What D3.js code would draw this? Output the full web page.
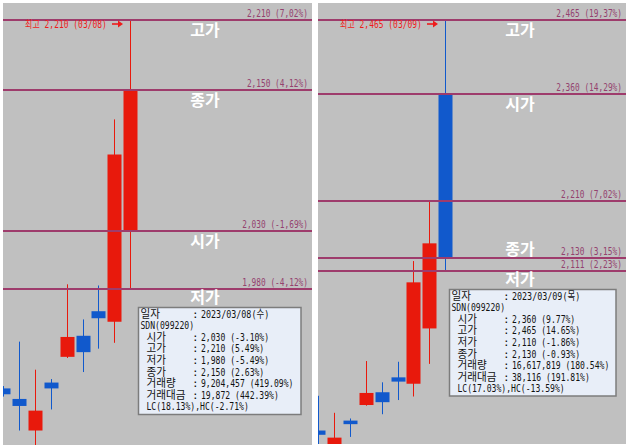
<!DOCTYPE html>
<html><head><meta charset="utf-8">
<script src="https://cdn.jsdelivr.net/npm/d3@7"></script>
<style>body{margin:0;background:#fff;}svg{display:block;}</style>
</head><body>
<script>
// ---- data ----
const dates  = ["02/23","02/24","02/27","02/28","03/02","03/03","03/06","03/07","03/08","03/09"];
const opens  = [1895, 1886, 1859, 1900, 1922, 1940, 1961, 1952, 2030, 2360];
const highs  = [1897, 1935, 1911, 1903, 1984, 1954, 1983, 2125, 2210, 2465];
const lows   = [1888, 1859, 1838, 1877, 1921, 1909, 1929, 1934, 1980, 2110];
const closes = [1890, 1880, 1876, 1895, 1939, 1926, 1955, 2095, 2150, 2130];

const leftLevels     = [2210, 2150, 2030, 1980];
const leftLevelText  = ["2,210 (7,02%)", "2,150 (4,12%)", "2,030 (-1,69%)", "1,980 (-4,12%)"];
const leftLevelNames = ["고가", "종가", "시가", "저가"];
const leftLevelSide  = ["below", "below", "below", "below"];

const rightLevels     = [2465, 2360, 2210, 2130, 2111];
const rightLevelText  = ["2,465 (19,37%)", "2,360 (14,29%)", "2,210 (7,02%)", "2,130 (3,15%)", "2,111 (2,23%)"];
const rightLevelNames = ["고가", "시가", "", "종가", "저가"];
const rightLevelSide  = ["below", "below", "below", "above", "below"];

const leftInfoLabels  = ["일자", "SDN(099220)", "시가", "고가", "저가", "종가", "거래량", "거래대금", "LC(18.13%),HC(-2.71%)"];
const leftInfoValues  = ["2023/03/08(수)", "", "2,030 (-3.10%)", "2,210 (5.49%)", "1,980 (-5.49%)", "2,150 (2.63%)", "9,204,457 (419.09%)", "19,872 (442.39%)", ""];
const rightInfoLabels = ["일자", "SDN(099220)", "시가", "고가", "저가", "종가", "거래량", "거래대금", "LC(17.03%),HC(-13.59%)"];
const rightInfoValues = ["2023/03/09(목)", "", "2,360 (9.77%)", "2,465 (14.65%)", "2,110 (-1.86%)", "2,130 (-0.93%)", "16,617,819 (180.54%)", "38,116 (191.81%)", ""];
const infoIndent = [false, false, true, true, true, true, true, true, true];

const leftHighNote  = "최고 2,210 (03/08)";
const rightHighNote = "최고 2,465 (03/09)";

// ---- drawing ----
const RED = "#e8190c", BLUE = "#1159cc", LINE = "#9e3c6c", LTXT = "#94426f";
const MONO = "'DejaVu Sans Mono','Noto Sans CJK KR',monospace";
const svg = d3.select("body").append("svg").attr("width", 630).attr("height", 448);
const defs = svg.append("defs");

const isWide = c => c.charCodeAt(0) > 0x2e80;
function units(s) { let u = 0; for (const c of s) u += isWide(c) ? 2 : 1; return u; }
// text squeezed horizontally with a transform
function fitText(parent, str, x, y, width, anchor) {
  const t = parent.append("text").text(str);
  const nat = t.node().getComputedTextLength() || width;
  const sx = width / nat;
  const x0 = anchor === "end" ? x - width : x;
  t.attr("transform", `translate(${x0},${y}) scale(${sx.toFixed(4)},1)`);
  return t;
}
// text squeezed with textLength
function lenText(parent, str, x, y, width) {
  return parent.append("text").attr("x", x).attr("y", y)
    .attr("textLength", width).attr("lengthAdjust", "spacingAndGlyphs").text(str);
}

function drawPanel(p, id) {
  defs.append("clipPath").attr("id", id).append("rect")
    .attr("x", p.x).attr("y", p.y).attr("width", p.w).attr("height", p.h);
  const g = svg.append("g");
  g.append("rect").attr("x", p.x).attr("y", p.y).attr("width", p.w).attr("height", p.h).attr("fill", "#c0c0c0");
  const y = d3.scaleLinear().domain(p.yDomain).range(p.yRange);
  const idx = d3.range(p.last - 8, p.last + 1);
  const x = d3.scaleLinear().domain([p.last - 8, p.last]).range([p.x + 0.3, p.x + 127.2]);
  const cg = g.append("g").attr("clip-path", `url(#${id})`);
  const col = i => closes[i] >= opens[i] ? RED : BLUE;
  cg.selectAll("line.w").data(idx).join("line")
    .attr("x1", i => Math.round(x(i)) + 0.5).attr("x2", i => Math.round(x(i)) + 0.5)
    .attr("y1", i => y(highs[i])).attr("y2", i => y(lows[i]))
    .attr("stroke", col).attr("stroke-width", 1);
  cg.selectAll("rect.b").data(idx).join("rect")
    .attr("x", i => Math.round(x(i)) - 6.5).attr("width", 14)
    .attr("y", i => y(Math.max(opens[i], closes[i])))
    .attr("height", i => Math.max(2, Math.abs(y(opens[i]) - y(closes[i]))))
    .attr("fill", col);
  const lt = g.append("g").attr("font-family", MONO).attr("font-size", 10).attr("fill", LTXT);
  p.levels.forEach((v, k) => {
    const yy = Math.round(y(v));
    g.append("line").attr("x1", p.x).attr("x2", p.x + p.w).attr("y1", yy).attr("y2", yy)
      .attr("stroke", LINE).attr("stroke-width", 2);
    const t = p.levelText[k];
    fitText(lt, t, p.x + p.w - 4, yy - 3, units(t) * 4.7, "end");
    if (p.levelNames[k]) {
      const cy = p.levelSide[k] === "below" ? yy + (k === p.levels.length - 1 ? 8.6 : 9.8) : yy - 8.5;
      g.append("text").attr("x", p.x + 202).attr("y", cy).attr("dy", "0.36em")
        .attr("text-anchor", "middle").attr("font-family", "'Noto Sans CJK KR',sans-serif")
        .attr("font-weight", "bold").attr("font-size", 16).attr("fill", "#fff").text(p.levelNames[k]);
    }
  });
  // high annotation
  const tip = Math.round(x(p.last)) - 7;
  const ay = Math.round(y(highs[p.last])) + 4;
  const nw = units(p.note) * 4.55;
  const ng = g.append("g").attr("font-family", MONO).attr("font-size", 10).attr("fill", "#ee1c1c");
  fitText(ng, p.note, tip - 16 - nw, ay + 3.6, nw, "start");
  g.append("line").attr("x1", tip - 11).attr("x2", tip - 4).attr("y1", ay).attr("y2", ay)
    .attr("stroke", "#ee1c1c").attr("stroke-width", 1.6);
  g.append("path").attr("d", `M${tip - 5},${ay - 3.5}L${tip},${ay}L${tip - 5},${ay + 3.5}Z`).attr("fill", "#ee1c1c");
  // info box
  const b = p.box;
  g.append("rect").attr("x", b.x).attr("y", b.y).attr("width", b.w).attr("height", b.h)
    .attr("fill", "#e8eef8").attr("stroke", "#7c7c7c").attr("stroke-width", 1.5);
  const cw = 4.87;
  const tg = g.append("g").attr("font-family", MONO).attr("font-size", 11).attr("fill", "#111");
  p.infoLabels.forEach((lab, r) => {
    const by = b.y + 10 + r * 11.6;
    const lx = b.x + (infoIndent[r] ? 8 : 2);
    lenText(tg, lab, lx, by, units(lab) * cw);
    const val = p.infoValues[r];
    if (val) {
      tg.append("text").attr("x", b.x + 53.5).attr("y", by).text(":");
      if ([...val].some(isWide)) lenText(tg, val, b.x + 62.5, by, units(val) * cw);
      else fitText(tg, val, b.x + 62.5, by, units(val) * cw, "start");
    }
  });
}

drawPanel({x: 3, y: 3, w: 309, h: 442, last: 8,
  yDomain: [1980, 2210], yRange: [289, 20],
  levels: leftLevels, levelText: leftLevelText, levelNames: leftLevelNames, levelSide: leftLevelSide,
  note: leftHighNote, infoLabels: leftInfoLabels, infoValues: leftInfoValues,
  box: {x: 138.5, y: 307.5, w: 162.5, h: 107}}, "clipL");

drawPanel({x: 318, y: 3, w: 308, h: 441, last: 9,
  yDomain: [2111, 2465], yRange: [271, 20],
  levels: rightLevels, levelText: rightLevelText, levelNames: rightLevelNames, levelSide: rightLevelSide,
  note: rightHighNote, infoLabels: rightInfoLabels, infoValues: rightInfoValues,
  box: {x: 449.5, y: 289.5, w: 166.5, h: 106.5}}, "clipR");
</script>
</body></html>
